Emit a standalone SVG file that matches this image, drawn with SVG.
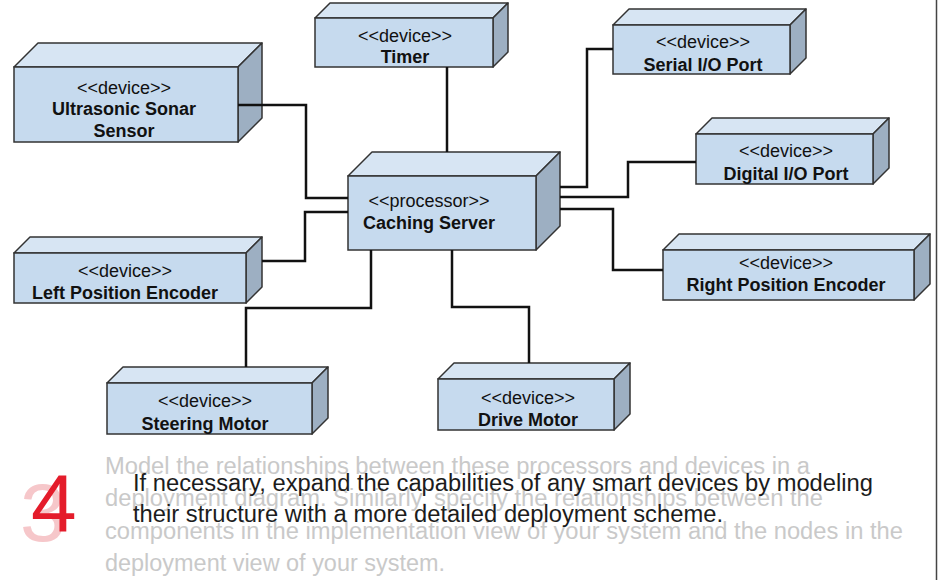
<svg xmlns="http://www.w3.org/2000/svg" width="940" height="580" viewBox="0 0 940 580">
<style>
.front{fill:#c6daee;stroke:#333;stroke-width:1.5}
.top{fill:#d7e5f3;stroke:#333;stroke-width:1.5;stroke-linejoin:round}
.side{fill:#9dafc2;stroke:#333;stroke-width:1.5;stroke-linejoin:round}
.st{font-family:"Liberation Sans",Arial,sans-serif;font-size:18px;fill:#111;text-anchor:middle}
.nm{font-family:"Liberation Sans",Arial,sans-serif;font-size:18px;font-weight:bold;fill:#111;text-anchor:middle}
.conn{fill:none;stroke:#111;stroke-width:2.5}
.grey{font-family:"Liberation Sans",Arial,sans-serif;font-size:23px;fill:#c9c9c9}
.blk{font-family:"Liberation Sans",Arial,sans-serif;font-size:23px;fill:#1c1c1c}
</style>
<rect width="940" height="580" fill="#ffffff"/>
<line x1="936.5" y1="0" x2="936.5" y2="580" stroke="#444" stroke-width="1.5"/>

<g id="sonar">
<polygon class="top" points="14,67 38,43 262,43 238,67"/>
<polygon class="side" points="238,67 262,43 262,118 238,142"/>
<rect class="front" x="14" y="67" width="224" height="75"/>
<text class="st" x="124" y="94">&lt;&lt;device&gt;&gt;</text>
<text class="nm" x="124" y="115">Ultrasonic Sonar</text>
<text class="nm" x="124" y="137">Sensor</text>
</g>

<g id="timer">
<polygon class="top" points="315,18 330,3 508,3 493,18"/>
<polygon class="side" points="493,18 508,3 508,52 493,67"/>
<rect class="front" x="315" y="18" width="178" height="49"/>
<text class="st" x="405" y="42">&lt;&lt;device&gt;&gt;</text>
<text class="nm" x="405" y="63">Timer</text>
</g>

<g id="server">
<polygon class="top" points="348,176 372,152 560,152 536,176"/>
<polygon class="side" points="536,176 560,152 560,226 536,250"/>
<rect class="front" x="348" y="176" width="188" height="74"/>
<text class="st" x="429" y="207">&lt;&lt;processor&gt;&gt;</text>
<text class="nm" x="429" y="229">Caching Server</text>
</g>

<g id="serial">
<polygon class="top" points="613,25 629,9 806,9 790,25"/>
<polygon class="side" points="790,25 806,9 806,58 790,74"/>
<rect class="front" x="613" y="25" width="177" height="49"/>
<text class="st" x="703" y="48">&lt;&lt;device&gt;&gt;</text>
<text class="nm" x="703" y="71">Serial I/O Port</text>
</g>

<g id="digital">
<polygon class="top" points="696,134 712,118 889,118 873,134"/>
<polygon class="side" points="873,134 889,118 889,168 873,184"/>
<rect class="front" x="696" y="134" width="177" height="50"/>
<text class="st" x="786" y="157">&lt;&lt;device&gt;&gt;</text>
<text class="nm" x="786" y="180">Digital I/O Port</text>
</g>

<g id="right-encoder">
<polygon class="top" points="663,250 679,234 930,234 914,250"/>
<polygon class="side" points="914,250 930,234 930,284 914,300"/>
<rect class="front" x="663" y="250" width="251" height="50"/>
<text class="st" x="786" y="269">&lt;&lt;device&gt;&gt;</text>
<text class="nm" x="786" y="291">Right Position Encoder</text>
</g>

<g id="left-encoder">
<polygon class="top" points="14,253 30,237 262,237 246,253"/>
<polygon class="side" points="246,253 262,237 262,287 246,303"/>
<rect class="front" x="14" y="253" width="232" height="50"/>
<text class="st" x="125" y="277">&lt;&lt;device&gt;&gt;</text>
<text class="nm" x="125" y="299">Left Position Encoder</text>
</g>

<g id="steering">
<polygon class="top" points="107,383 123,367 328,367 312,383"/>
<polygon class="side" points="312,383 328,367 328,418 312,434"/>
<rect class="front" x="107" y="383" width="205" height="51"/>
<text class="st" x="205" y="407">&lt;&lt;device&gt;&gt;</text>
<text class="nm" x="205" y="430">Steering Motor</text>
</g>

<g id="drive">
<polygon class="top" points="438,379 454,363 630,363 614,379"/>
<polygon class="side" points="614,379 630,363 630,414 614,430"/>
<rect class="front" x="438" y="379" width="176" height="51"/>
<text class="st" x="528" y="404">&lt;&lt;device&gt;&gt;</text>
<text class="nm" x="528" y="426">Drive Motor</text>
</g>

<g id="connectors">
<path class="conn" d="M238,105 H306 V198 H348"/>
<path class="conn" d="M447,67 V152"/>
<path class="conn" d="M262,261 H305 V212 H348"/>
<path class="conn" d="M371,250 V308 H246 V367"/>
<path class="conn" d="M452,250 V307 H529 V363"/>
<path class="conn" d="M560,187 H587 V49 H613"/>
<path class="conn" d="M560,197 H628 V162 H696"/>
<path class="conn" d="M560,209 H613 V270 H663"/>
</g>

<g id="caption">
<text class="grey" x="105" y="474" textLength="705" lengthAdjust="spacingAndGlyphs">Model the relationships between these processors and devices in a</text>
<text class="grey" x="105" y="506" textLength="718" lengthAdjust="spacingAndGlyphs">deployment diagram. Similarly, specify the relationships between the</text>
<text class="grey" x="105" y="539" textLength="798" lengthAdjust="spacingAndGlyphs">components in the implementation view of your system and the nodes in the</text>
<text class="grey" x="105" y="571" textLength="340" lengthAdjust="spacingAndGlyphs">deployment view of your system.</text>
<text x="20" y="541" font-family="Liberation Sans, Arial, sans-serif" font-size="82" fill="#f6c7ca">3</text>
<text x="31" y="532" font-family="Liberation Sans, Arial, sans-serif" font-size="82" fill="#e41c2b">4</text>
<text class="blk" x="133" y="491" textLength="740" lengthAdjust="spacingAndGlyphs">If necessary, expand the capabilities of any smart devices by modeling</text>
<text class="blk" x="133" y="522" textLength="590" lengthAdjust="spacingAndGlyphs">their structure with a more detailed deployment scheme.</text>
</g>
</svg>
